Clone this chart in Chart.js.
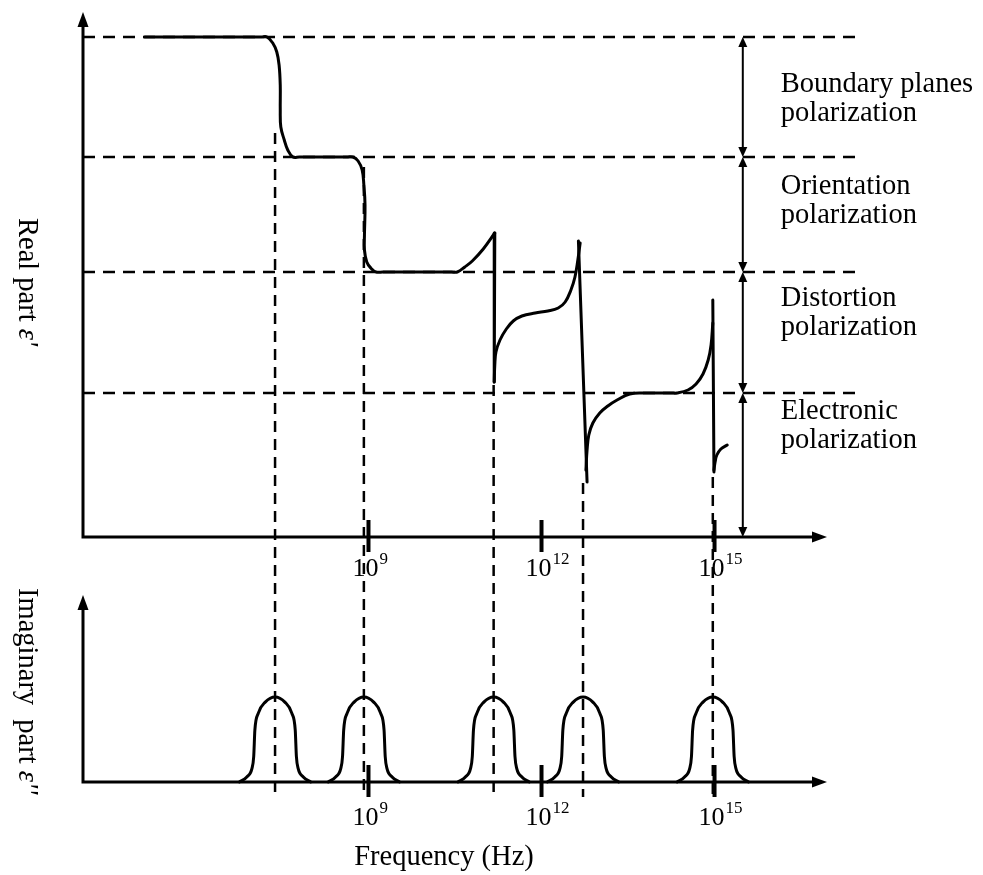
<!DOCTYPE html>
<html>
<head>
<meta charset="utf-8">
<title>Dielectric dispersion</title>
<script src="https://cdn.jsdelivr.net/npm/chart.js@4.4.1/dist/chart.umd.min.js"></script>
<style>
  body { margin: 0; background: #fff; }
  #wrap { position: relative; width: 983px; height: 875px; background: #fff; }
  #wrap canvas { position: absolute; left: 0; top: 0; }
</style>
</head>
<body>
<div id="wrap">
  <canvas id="realChart" width="983" height="875"></canvas>
  <canvas id="imagChart" width="983" height="875"></canvas>
</div>
<script>
//----------------------------Frequency axis (log10 of Hz)
var freqMin = 4.05;
var freqMax = 16.95;
var freqTicks = [9, 12, 15];
var tickLabels = [["10", "9"], ["10", "12"], ["10", "15"]];

//----------------------------Real part
var realMax = 5.25;
var levels = [5.0, 3.8, 2.65, 1.44];
var levelNames = [
  ["Boundary planes", "polarization"],
  ["Orientation", "polarization"],
  ["Distortion", "polarization"],
  ["Electronic", "polarization"]
];
var resonances = [7.38, 8.92, 11.17, 12.72, 14.97];
var dropTops = [4.04, 3.70, 1.52, 0.54, 0.60];

// steps of eps' : smooth pieces and the sharp jumps between them
var stepsDown = [
  [5.12, 5.00], [7.14, 5.00], [7.24, 5.00], [7.34, 4.94], [7.41, 4.85], [7.45, 4.72],
  [7.47, 4.52], [7.47, 4.27], [7.48, 4.10], [7.54, 3.97], [7.60, 3.87], [7.69, 3.80],
  [7.80, 3.80], [8.63, 3.80],
  [8.73, 3.80], [8.82, 3.76], [8.89, 3.67], [8.92, 3.52], [8.94, 3.32], [8.93, 3.02],
  [8.93, 2.87], [8.97, 2.75], [9.04, 2.69], [9.13, 2.65],
  [9.25, 2.65], [10.44, 2.65],
  [10.54, 2.65], [10.67, 2.70], [10.80, 2.76], [10.99, 2.88], [11.19, 3.04]
];
var jumpOne = [[11.19, 3.04], [11.18, 1.55]];
var riseOne = [
  [11.18, 1.55], [11.19, 1.72], [11.21, 1.85], [11.28, 1.97], [11.39, 2.08], [11.51, 2.16],
  [11.66, 2.21], [11.89, 2.24], [12.11, 2.26], [12.29, 2.29], [12.41, 2.35], [12.51, 2.47],
  [12.58, 2.60], [12.63, 2.77], [12.67, 2.94]
];
var jumpTwo = [[12.64, 2.96], [12.79, 0.55]];
var riseTwo = [
  [12.77, 0.67], [12.79, 0.87], [12.82, 1.02], [12.89, 1.14], [13.01, 1.24], [13.15, 1.31],
  [13.31, 1.37], [13.53, 1.43], [13.80, 1.44], [13.90, 1.44], [14.25, 1.44], [14.35, 1.44],
  [14.54, 1.47], [14.68, 1.53], [14.80, 1.63], [14.89, 1.77], [14.94, 1.92], [14.97, 2.14]
];
var jumpThree = [[14.97, 2.37], [14.99, 0.65]];
var tailEnd = [[14.99, 0.67], [15.01, 0.75], [15.04, 0.82], [15.11, 0.88], [15.22, 0.92]];

//----------------------------Imaginary part
var lossMax = 2.2;
var peakShapeX = [-0.62, -0.49, -0.40, -0.37, -0.35, -0.29, -0.17, 0, 0.17, 0.29, 0.35, 0.37, 0.40, 0.49, 0.62];
var peakShapeY = [0, 0.06, 0.16, 0.30, 0.61, 0.81, 0.94, 1, 0.94, 0.81, 0.61, 0.30, 0.16, 0.06, 0];

var serif = "'Liberation Serif', 'Times New Roman', serif";
var labelFont = "28.5px " + serif;

function pts(list) {
  return list.map(function (p) { return { x: p[0], y: p[1] }; });
}

// kind: "spline" for the dispersion curve, "peak" for loss peaks, anything else straight
function curveSet(list, kind) {
  return {
    data: pts(list),
    borderColor: "#000",
    borderWidth: 3,
    pointRadius: 0,
    tension: kind === "spline" ? 0.4 : 0,
    cubicInterpolationMode: kind === "peak" ? "monotone" : "default",
    borderJoinStyle: "round",
    borderCapStyle: "round",
    fill: false,
    clip: false,
    order: 1
  };
}

function guideSet(list, dash) {
  return {
    data: pts(list),
    borderColor: "#000",
    borderWidth: 2.5,
    borderDash: dash,
    pointRadius: 0,
    fill: false,
    clip: false,
    order: 2
  };
}

function arrowHead(ctx, x, y, dx, dy, len, half) {
  ctx.beginPath();
  ctx.moveTo(x, y);
  ctx.lineTo(x - dx * len - dy * half, y - dy * len + dx * half);
  ctx.lineTo(x - dx * len + dy * half, y - dy * len - dx * half);
  ctx.closePath();
  ctx.fill();
}

// axis lines with arrows, thick tick marks and 10^n labels
function drawAxes(chart, labelGap) {
  var ctx = chart.ctx, a = chart.chartArea, xs = chart.scales.x;
  ctx.save();
  ctx.strokeStyle = "#000";
  ctx.fillStyle = "#000";
  ctx.lineWidth = 3;
  ctx.lineJoin = "miter";
  ctx.beginPath();
  ctx.moveTo(a.left, a.top + 12);
  ctx.lineTo(a.left, a.bottom);
  ctx.lineTo(a.right - 12, a.bottom);
  ctx.stroke();
  arrowHead(ctx, a.left, a.top, 0, -1, 15, 5.5);
  arrowHead(ctx, a.right, a.bottom, 1, 0, 15, 5.5);

  ctx.lineWidth = 4;
  freqTicks.forEach(function (t, i) {
    var x = xs.getPixelForValue(t);
    ctx.beginPath();
    ctx.moveTo(x, a.bottom - 17);
    ctx.lineTo(x, a.bottom + 15);
    ctx.stroke();

    ctx.font = "26px " + serif;
    var w = ctx.measureText(tickLabels[i][0]).width;
    var x0 = x - 3 - w / 2;
    ctx.fillText(tickLabels[i][0], x0, a.bottom + labelGap);
    ctx.font = "17px " + serif;
    ctx.fillText(tickLabels[i][1], x0 + w + 1, a.bottom + labelGap - 12);
  });
  ctx.restore();
}

// rotated title reading top to bottom
function drawSideTitle(ctx, x, yStart, parts) {
  ctx.save();
  ctx.translate(x, yStart);
  ctx.rotate(Math.PI / 2);
  ctx.fillStyle = "#000";
  ctx.textBaseline = "alphabetic";
  var cx = 0;
  parts.forEach(function (p) {
    ctx.font = p[1] + labelFont;
    ctx.fillText(p[0], cx, 0);
    cx += ctx.measureText(p[0]).width;
  });
  ctx.restore();
}

var realDecor = {
  id: "realDecor",
  afterDraw: function (chart) {
    var ctx = chart.ctx, xs = chart.scales.x, ys = chart.scales.y;
    drawAxes(chart, 39);

    // double arrows marking each polarization step
    var bx = xs.getPixelForValue(15.49);
    ctx.save();
    ctx.strokeStyle = "#000";
    ctx.fillStyle = "#000";
    ctx.lineWidth = 2;
    levels.forEach(function (lv, i) {
      var yA = ys.getPixelForValue(lv);
      var yB = ys.getPixelForValue(i + 1 < levels.length ? levels[i + 1] : 0);
      ctx.beginPath();
      ctx.moveTo(bx, yA + 4);
      ctx.lineTo(bx, yB - 4);
      ctx.stroke();
      arrowHead(ctx, bx, yA, 0, -1, 10, 4.5);
      arrowHead(ctx, bx, yB, 0, 1, 10, 4.5);
    });

    var baselines = [92, 194, 306, 419];
    ctx.font = labelFont;
    ctx.textAlign = "left";
    levelNames.forEach(function (lines, i) {
      ctx.fillText(lines[0], bx + 38, baselines[i]);
      ctx.fillText(lines[1], bx + 38, baselines[i] + 29);
    });
    ctx.restore();

    drawSideTitle(ctx, 19, 218, [["Real part ", ""], ["\u03b5'", "italic "]]);
  }
};

var imagDecor = {
  id: "imagDecor",
  afterDraw: function (chart) {
    var ctx = chart.ctx, a = chart.chartArea;
    drawAxes(chart, 43);
    ctx.save();
    ctx.fillStyle = "#000";
    ctx.font = labelFont;
    ctx.textAlign = "center";
    ctx.fillText("Frequency (Hz)", 444, a.bottom + 83);
    ctx.restore();
    drawSideTitle(ctx, 19, 588, [["Imaginary  part ", ""], ["\u03b5''", "italic "]]);
  }
};

function baseOptions(yMax, pad) {
  return {
    responsive: false,
    devicePixelRatio: 1,
    animation: false,
    events: [],
    layout: { padding: pad },
    plugins: { legend: { display: false }, tooltip: { enabled: false } },
    scales: {
      x: { type: "linear", min: freqMin, max: freqMax, display: false },
      y: { type: "linear", min: 0, max: yMax, display: false }
    }
  };
}

//----------------------------Real part chart
var realSets = [
  curveSet(stepsDown, "spline"),
  curveSet(jumpOne, "line"),
  curveSet(riseOne, "spline"),
  curveSet(jumpTwo, "line"),
  curveSet(riseTwo, "spline"),
  curveSet(jumpThree, "line"),
  curveSet(tailEnd, "spline")
];
levels.forEach(function (lv) {
  realSets.push(guideSet([[freqMin, lv], [17.49, lv]], [12, 8]));
});
resonances.forEach(function (r, i) {
  realSets.push(guideSet([[r, dropTops[i]], [r, -2.6]], [11, 7]));
});

new Chart(document.getElementById("realChart"), {
  type: "line",
  data: { datasets: realSets },
  options: baseOptions(realMax, { left: 83, right: 156, top: 12, bottom: 338 }),
  plugins: [realDecor]
});

//----------------------------Imaginary part chart
var imagSets = resonances.map(function (r) {
  var peak = peakShapeX.map(function (dx, k) { return [r + dx, peakShapeY[k]]; });
  return curveSet(peak, "peak");
});

new Chart(document.getElementById("imagChart"), {
  type: "line",
  data: { datasets: imagSets },
  options: baseOptions(lossMax, { left: 83, right: 156, top: 595, bottom: 93 }),
  plugins: [imagDecor]
});
</script>
</body>
</html>
